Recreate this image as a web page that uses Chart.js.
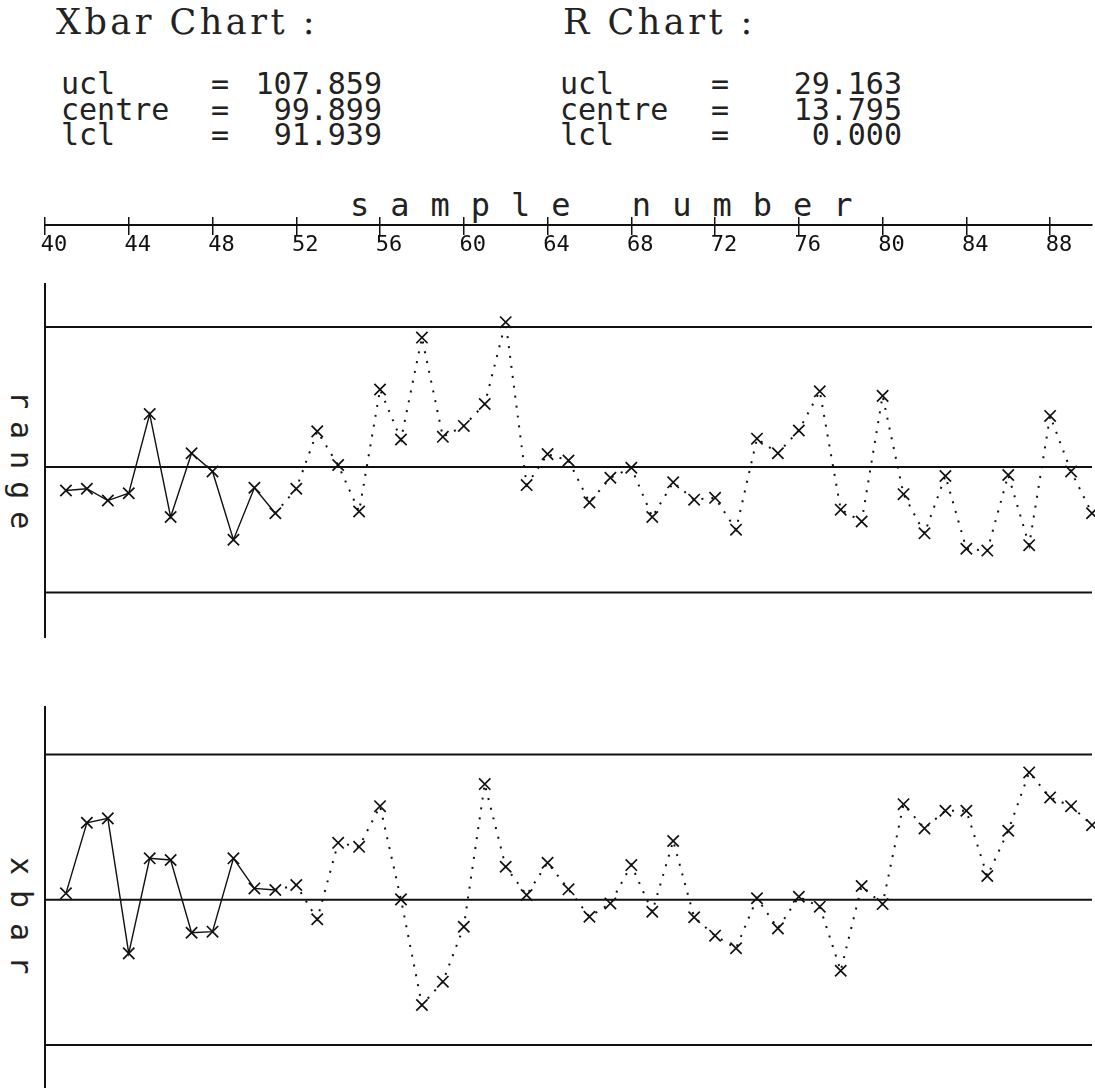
<!DOCTYPE html>
<html>
<head>
<meta charset="utf-8">
<script src="https://cdn.jsdelivr.net/npm/chart.js@4.4.1/dist/chart.umd.min.js"></script>
<style>
  html, body { margin: 0; padding: 0; background: #fff; }
  body { width: 1095px; height: 1090px; position: relative; overflow: hidden; color: #222; }
  .abs { position: absolute; white-space: pre; }
  .title { font-family: "DejaVu Serif", serif; font-size: 35px; line-height: 35px; letter-spacing: 3.5px; }
  .mono { font-family: "DejaVu Sans Mono", monospace; font-size: 30px; line-height: 30px; }
  .rot { transform: rotate(90deg); transform-origin: 0 0; }
  canvas { position: absolute; left: 0; }
</style>
</head>
<body>
<div class="abs title" style="left:56px; top:5px">Xbar Chart :</div>
<div class="abs title" style="left:563px; top:5px">R Chart :</div>
<div class="abs mono" style="left:350px; top:189px; font-size:32px; line-height:32px; letter-spacing:21px">sample number</div>
<div class="abs mono rot" style="left:36px; top:391px; letter-spacing:12px">range</div>
<div class="abs mono rot" style="left:36px; top:857px; letter-spacing:15px">xbar</div>

<canvas id="axis" width="1095" height="80" style="top:185px"></canvas>
<canvas id="range" width="1095" height="355" style="top:283px"></canvas>
<canvas id="xbar" width="1095" height="382" style="top:706px"></canvas>

<script>
const ink = "#111";

// control limits: ucl, centre, lcl
const statNames = ["ucl", "centre", "lcl"];
const xbarLimits = [107.859, 99.899, 91.939];
const rLimits = [29.163, 13.795, 0.000];

// sample axis
const xMin = 40, xMax = 90;
const sampleTicks = [40, 44, 48, 52, 56, 60, 64, 68, 72, 76, 80, 84, 88];
const samples = [41, 42, 43, 44, 45, 46, 47, 48, 49, 50,
                 51, 52, 53, 54, 55, 56, 57, 58, 59, 60,
                 61, 62, 63, 64, 65, 66, 67, 68, 69, 70,
                 71, 72, 73, 74, 75, 76, 77, 78, 79, 80,
                 81, 82, 83, 84, 85, 86, 87, 88, 89, 90];
const baseCount = 11; // solid line for the first samples, dotted after

const rangeValues = [11.2, 11.4, 10.1, 10.9, 19.6, 8.3, 15.3, 13.3, 5.8, 11.5,
                     8.7, 11.4, 17.7, 14.0, 8.9, 22.3, 16.8, 28.0, 17.1, 18.3,
                     20.7, 29.7, 11.8, 15.2, 14.5, 9.9, 12.6, 13.7, 8.3, 12.1,
                     10.2, 10.4, 6.9, 16.9, 15.3, 17.8, 22.1, 9.1, 7.8, 21.6,
                     10.8, 6.5, 12.8, 4.8, 4.6, 12.9, 5.2, 19.4, 13.3, 8.7];
const xbarValues = [100.25, 104.12, 104.36, 96.96, 102.17, 102.08, 98.09, 98.15, 102.17, 100.52,
                    100.43, 100.71, 98.83, 103.02, 102.80, 105.03, 99.92, 94.13, 95.41, 98.42,
                    106.24, 101.71, 100.16, 101.93, 100.47, 98.97, 99.70, 101.80, 99.24, 103.12,
                    98.94, 97.93, 97.24, 99.98, 98.33, 100.06, 99.52, 96.01, 100.65, 99.66,
                    105.14, 103.81, 104.78, 104.78, 101.20, 103.68, 106.88, 105.51, 105.03, 103.99];

// header figures
function addStats(vals, labelX, eqX, valRight) {
  vals.forEach((v, i) => {
    const top = 69 + i * 25.5;
    const lab = document.createElement("div");
    lab.className = "abs mono";
    lab.style.cssText = `left:${labelX}px; top:${top}px`;
    lab.textContent = statNames[i];
    const eq = document.createElement("div");
    eq.className = "abs mono";
    eq.style.cssText = `left:${eqX}px; top:${top}px`;
    eq.textContent = "=";
    const val = document.createElement("div");
    val.className = "abs mono";
    val.style.cssText = `right:${1095 - valRight}px; top:${top}px`;
    val.textContent = v.toFixed(3);
    document.body.append(lab, eq, val);
  });
}
addStats(xbarLimits, 61, 211, 382);
addStats(rLimits, 560, 711, 902);

const base = {
  responsive: false,
  animation: false,
  events: [],
  plugins: { legend: { display: false }, tooltip: { enabled: false } },
};

const limitSet = (v) => ({
  data: [{ x: xMin, y: v }, { x: xMax, y: v }],
  borderColor: ink, borderWidth: 2, pointRadius: 0, clip: false,
});

const dotted = (c) => c.p0DataIndex >= baseCount - 1;
const seriesSet = (vals) => ({
  data: samples.map((s, i) => ({ x: s, y: vals[i] })),
  borderColor: ink,
  borderWidth: 1.4,
  pointStyle: "crossRot",
  pointRadius: 8,
  pointBorderWidth: 1.7,
  pointBorderColor: ink,
  pointBackgroundColor: "rgba(0,0,0,0)",
  clip: false,
  segment: {
    borderDash: (c) => dotted(c) ? [2, 8] : undefined,
    borderWidth: (c) => dotted(c) ? 2 : undefined,
  },
});

function panel(id, vals, limits, yMin, yMax) {
  new Chart(document.getElementById(id), {
    type: "line",
    data: { datasets: [...limits.map(limitSet), seriesSet(vals)] },
    options: {
      ...base,
      layout: { autoPadding: false, padding: { left: 45, right: 3, top: 0, bottom: 0 } },
      scales: {
        x: { type: "linear", min: xMin, max: xMax, display: false },
        y: {
          min: yMin, max: yMax,
          ticks: { display: false },
          grid: { display: false, drawTicks: false },
          border: { display: true, color: ink, width: 2 },
        },
      },
    },
  });
}

// sample number axis
new Chart(document.getElementById("axis"), {
  type: "line",
  data: { datasets: [] },
  options: {
    ...base,
    layout: { autoPadding: false, padding: { left: 45, right: 3, top: 32, bottom: 0 } },
    scales: {
      x: {
        type: "linear", position: "bottom", min: xMin, max: xMax,
        afterBuildTicks: (s) => { s.ticks = sampleTicks.map((v) => ({ value: v })); },
        afterFit: (s) => { s.height = 40; },
        ticks: {
          autoSkip: false, maxRotation: 0, color: ink, padding: -3, labelOffset: 9,
          font: { family: "DejaVu Sans Mono", size: 22 },
          callback: (v) => String(v),
        },
        grid: { display: true, drawOnChartArea: true, drawTicks: true, tickLength: 10, color: ink, lineWidth: 1.5 },
        border: { display: true, color: ink, width: 2 },
      },
      y: { display: false },
    },
  },
});

panel("range", rangeValues, rLimits, -5, 34);
panel("xbar", xbarValues, xbarLimits, 89.58, 110.52);
</script>
</body>
</html>
